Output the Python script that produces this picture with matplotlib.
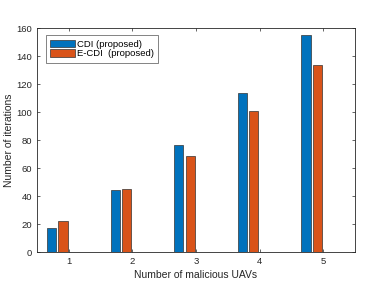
import numpy as np
import matplotlib
matplotlib.use("Agg")
import matplotlib.pyplot as plt

plt.rcParams['font.family'] = ['Liberation Sans', 'DejaVu Sans']

uavs = [1, 2, 3, 4, 5]
cdi = [17.5, 44, 76.5, 113.5, 155]
ecdi = [22, 45, 68.5, 100.5, 133.5]
labels = ['CDI (proposed)', 'E-CDI  (proposed)']

x = np.array(uavs)
w = 0.145
ax_col = '#262626'

fig = plt.figure(figsize=(3.74, 2.81), dpi=100)
ax = fig.add_axes([0.099, 0.103, 0.85, 0.797])

ax.bar(x - 0.27, cdi, w, color='#0072BD', edgecolor='#333333', linewidth=0.5, label=labels[0])
ax.bar(x - 0.09, ecdi, w, color='#D95319', edgecolor='#333333', linewidth=0.5, label=labels[1])

ax.set_xlim(0.5, 5.5)
ax.set_ylim(0, 160)
ax.set_xticks(uavs)
ax.set_yticks(np.arange(0, 161, 20))
ax.tick_params(direction='in', length=2.5, width=0.5, labelsize=6.8, colors=ax_col,
               top=True, right=True)
for s in ax.spines.values():
    s.set_linewidth(0.6)
    s.set_color(ax_col)

ax.set_xlabel('Number of malicious UAVs', fontsize=7.5, color=ax_col, labelpad=3)
ax.set_ylabel('Number of iterations', fontsize=7.5, color=ax_col, labelpad=2)

leg = ax.legend(loc='upper left', bbox_to_anchor=(0.027, 0.968), fontsize=6.8,
                frameon=True, fancybox=False, handlelength=2.7, handleheight=0.9,
                handletextpad=0.15, borderpad=0.45, labelspacing=0.05, borderaxespad=0)
leg.get_frame().set_edgecolor(ax_col)
leg.get_frame().set_linewidth(0.5)

fig.savefig('out.png', dpi=100)
